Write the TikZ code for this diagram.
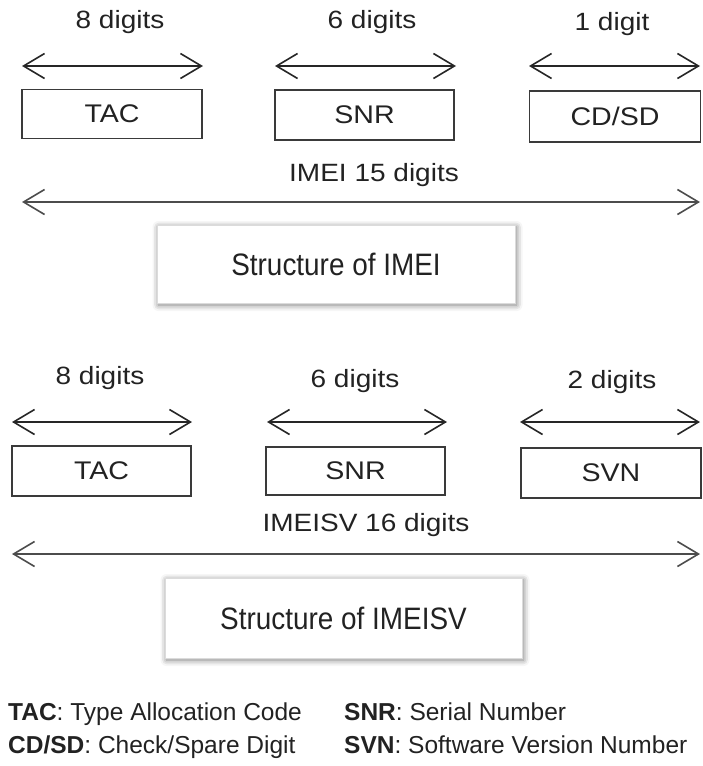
\documentclass[tikz,border=0pt]{standalone}
\usepackage{fontspec}
\setmainfont{Liberation Sans}
\newfontfamily\widesans[FakeStretch=1.12]{Liberation Sans}
\newfontfamily\narrowsans[FakeStretch=0.9]{Liberation Sans}
\usetikzlibrary{arrows.meta,shadows.blur}
\definecolor{ink}{HTML}{222222}
\definecolor{edge}{HTML}{3A3A3A}

\begin{document}
\begin{tikzpicture}[x=1pt,y=-1pt,
  barb/.tip={Straight Barb[length=21pt,width=25pt,line width=1.6pt]},
  span/.style={draw=black!85, line width=1.6pt, barb-barb},
  longspan/.style={draw=black!70, line width=2.2pt, barb-barb},
  digits/.style={text=ink, font=\fontsize{25}{28}\widesans, anchor=base, inner sep=0pt},
  field/.style={draw=edge, line width=1.9pt, fill=white, text=ink,
    font=\fontsize{25.5}{28}\widesans, inner sep=0pt, text depth=0pt},
  caption/.style={draw=black!14, line width=0.6pt, fill=white, text=ink,
    font=\fontsize{31}{36}\narrowsans, inner sep=0pt,
    blur shadow={shadow xshift=1.5pt, shadow yshift=-2pt, shadow blur radius=6pt, shadow opacity=55}},
  legend/.style={text=ink, font=\fontsize{24.5}{28}\selectfont, anchor=base west, inner sep=0pt}
]
\useasboundingbox (0,0) rectangle (702,766);

% ---------------- IMEI ----------------
\node[digits] (d1) at (120,28) {8 digits};
\node[digits] (d2) at (372,28) {6 digits};
\node[digits] (d3) at (612,30) {1 digit};

\coordinate (a1l) at (22,66);  \coordinate (a1r) at (203,66);
\coordinate (a2l) at (275,66); \coordinate (a2r) at (456,66);
\coordinate (a3l) at (529,66); \coordinate (a3r) at (700,66);
\draw[span] (a1l) -- (a1r);
\draw[span] (a2l) -- (a2r);
\draw[span] (a3l) -- (a3r);

\node[field, minimum width=180pt, minimum height=49pt] (tac1) at (112,114) {TAC};
\node[field, minimum width=179pt, minimum height=50pt] (snr1) at (364.5,115) {SNR};
\node[field, minimum width=171pt, minimum height=51pt] (cd1) at (615,116.5) {CD/SD};

\node[digits] (tot1) at (374,181) {IMEI 15 digits};
\coordinate (l1l) at (22,202); \coordinate (l1r) at (700,202);
\draw[longspan] (l1l) -- (l1r);

\node[caption, minimum width=358pt, minimum height=78pt] (cap1) at (336,264) {Structure of IMEI};

% ---------------- IMEISV ----------------
\node[digits] (e1) at (100,384) {8 digits};
\node[digits] (e2) at (355,387) {6 digits};
\node[digits] (e3) at (612,388) {2 digits};

\coordinate (b1l) at (12,422);  \coordinate (b1r) at (192,422);
\coordinate (b2l) at (267,422); \coordinate (b2r) at (447,422);
\coordinate (b3l) at (520,422); \coordinate (b3r) at (700,422);
\draw[span] (b1l) -- (b1r);
\draw[span] (b2l) -- (b2r);
\draw[span] (b3l) -- (b3r);

\node[field, minimum width=179pt, minimum height=50pt] (tac2) at (101.5,471) {TAC};
\node[field, minimum width=179pt, minimum height=48pt] (snr2) at (355.5,471) {SNR};
\node[field, minimum width=180pt, minimum height=50pt] (svn2) at (611,473) {SVN};

\node[digits] (tot2) at (366,531) {IMEISV 16 digits};
\coordinate (l2l) at (12,554); \coordinate (l2r) at (700,554);
\draw[longspan] (l2l) -- (l2r);

\node[caption, minimum width=357pt, minimum height=80pt] (cap2) at (343.5,618) {Structure of IMEISV};

% ---------------- legend ----------------
\node[legend] (k1) at (8,720) {\textbf{TAC}: Type Allocation Code};
\node[legend] (k2) at (8,753) {\textbf{CD/SD}: Check/Spare Digit};
\node[legend] (k3) at (344,720) {\textbf{SNR}: Serial Number};
\node[legend] (k4) at (344,753) {\textbf{SVN}: Software Version Number};
\end{tikzpicture}
\end{document}
